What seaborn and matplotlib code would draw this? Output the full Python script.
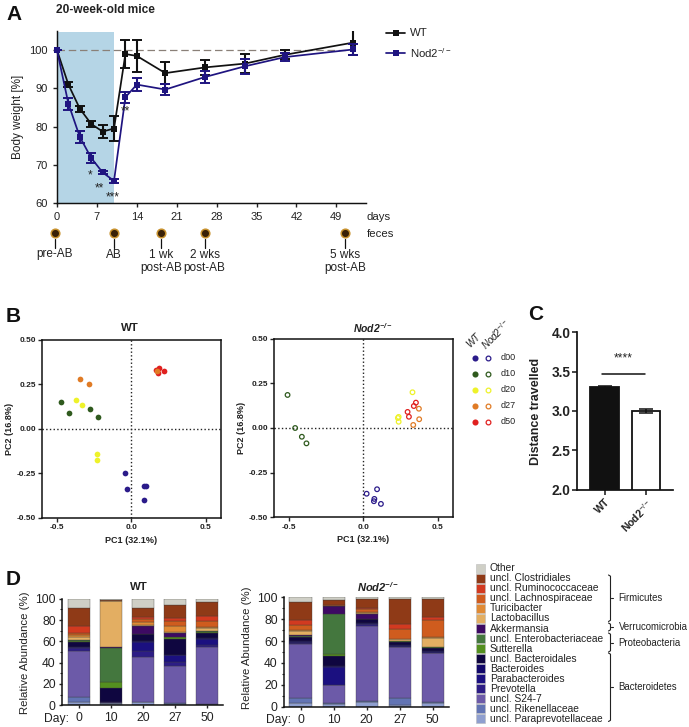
import numpy as np
import pandas as pd
import matplotlib
matplotlib.use("Agg")
import matplotlib.pyplot as plt
from matplotlib.patches import Rectangle
import seaborn as sns

sns.set_theme(style="ticks")
plt.rcParams["font.family"] = ["Liberation Sans", "DejaVu Sans"]
plt.rcParams["mathtext.fontset"] = "custom"
plt.rcParams["mathtext.rm"] = "Liberation Sans"
plt.rcParams["mathtext.it"] = "Liberation Sans:italic"
plt.rcParams["mathtext.bf"] = "Liberation Sans:bold"
plt.rcParams["mathtext.bfit"] = "Liberation Sans:italic:bold"

# ---------- Panel A data
days = [0, 2, 4, 6, 8, 10, 12, 14, 19, 26, 33, 40, 52]
wt_weight = [100, 91, 84.7, 80.7, 78.7, 79.5, 99, 98.5, 94, 95.5, 96.5, 98.8, 102]
wt_err = [0, .6, .8, .8, 1.7, 3.2, 3.7, 4.3, 2.8, 1.9, 2.5, 1.2, 3.2]
nod_weight = [100, 86, 77.3, 71.8, 68, 65.8, 87.7, 91, 89.7, 93, 95.8, 98.2, 100.2]
nod_err = [0, 1.6, 1.6, 1.4, .5, .5, 1.4, 1.7, 1.5, 1.6, 1.9, 1.1, 1.5]
feces_days = [-0.35, 10, 18.3, 25.9, 50.6]
feces_labels = ["pre-AB", "AB", "1 wk\npost-AB", "2 wks\npost-AB", "5 wks\npost-AB"]

# ---------- Panel B data
pca_groups = ["d00", "d10", "d20", "d27", "d50"]
pca_colors = ["#2b1b8a", "#2f5a1e", "#eef22a", "#e07b25", "#e0201f"]
wt_pc = {
    "d00": ([-.04, -.03, .087, .099, .085], [-.25, -.336, -.319, -.319, -.397]),
    "d10": ([-.473, -.417, -.28, -.226], [.149, .091, .108, .067]),
    "d20": ([-.372, -.332, -.233, -.233], [.16, .132, -.142, -.177]),
    "d50": ([.166, .188, .217, .182], [.33, .338, .326, .315]),
    "d27": ([-.343, -.283, .173], [.276, .248, .321]),
}
nod_pc = {
    "d00": ([.022, .092, .074, .071, .118], [-.368, -.343, -.397, -.41, -.425]),
    "d10": ([-.509, -.458, -.413, -.382], [.185, 0, -.049, -.086]),
    "d20": ([.33, .237, .232, .237], [.2, .062, .056, .035]),
    "d27": ([.373, .375, .335], [.108, .049, .017]),
    "d50": ([.353, .339, .297, .306], [.142, .123, .09, .063]),
}

# ---------- Panel C data
dist_groups = ["WT", "Nod2$^{-/-}$"]
dist_values = [3.31, 3.0]
dist_err = [0.012, 0.025]

# ---------- Panel D data (cumulative top of each taxon, bottom to top)
taxa = ["uncl. Paraprevotellaceae", "uncl. Rikenellaceae", "uncl. S24-7", "Prevotella",
        "Parabacteroides", "Bacteroides", "uncl. Bacteroidales", "Sutterella",
        "uncl. Enterobacteriaceae", "Akkermansia", "Lactobacillus", "Turicibacter",
        "uncl. Lachnospiraceae", "uncl. Ruminococcaceae", "uncl. Clostridiales", "Other"]
taxa_colors = ["#8f9fcf", "#6274b4", "#6c5aa8", "#2d1d85", "#1b1080", "#12086a", "#0f0640",
               "#54901f", "#44773e", "#3d0a63", "#e3ae62", "#e08a35", "#cf5c1e", "#d23a20",
               "#8f3a17", "#cfcfc6"]
day_labels = ["0", "10", "20", "27", "50"]
wt_d0 = [3, 7.5, 50.5, 54, 54.5, 55, 59, 60, 61, 61.5, 64, 66, 68, 74, 91, 100]
wt_d10 = [2, 2.2, 2.5, 2.7, 3, 3.5, 16, 21.5, 53.5, 55, 98, 98.2, 98.4, 98.6, 99, 100]
wt_d20 = [3, 3.3, 45, 50.5, 59.5, 60.5, 66.5, 66.7, 67, 74, 75.5, 78, 81, 82.5, 91.5, 100]
wt_d27 = [1.5, 2, 37, 41, 47, 47.5, 62.5, 64, 64.5, 67.5, 69, 74.5, 79, 81.5, 94, 100]
wt_d50 = [.5, 1, 55, 57, 62, 63, 67.5, 69, 69.5, 70, 72.5, 73.5, 79.5, 83.5, 96.5, 100]
nod_d0 = [3.5, 7.5, 57.5, 58, 59, 60, 63.5, 64, 65, 65.5, 69.5, 70.5, 74.5, 79, 96, 100]
nod_d10 = [2.5, 3, 19.5, 20, 36, 37, 46, 48.5, 85, 92, 92.2, 92.4, 92.6, 93, 97.5, 100]
nod_d20 = [4, 5, 74, 75.5, 76, 76.5, 80, 80.2, 80.4, 84.5, 85.5, 86.5, 89, 90.5, 98, 100]
nod_d27 = [1.5, 7.5, 54.5, 55, 55.5, 56, 59.5, 59.7, 60, 60.2, 61.5, 62, 71, 76, 98.5, 100]
nod_d50 = [3.5, 4, 49, 49.5, 50, 50.5, 54, 54.2, 54.4, 55, 63, 63.5, 79, 82, 98, 100]

W, H = 689, 727
fig = plt.figure(figsize=(W / 100, H / 100), dpi=100, facecolor="white")


def px_axes(l, t, r, b):
    return fig.add_axes([l / W, 1 - b / H, (r - l) / W, (b - t) / H], facecolor="none")


# overlay in pixel coordinates for annotation text
ov = fig.add_axes([0, 0, 1, 1], facecolor="none", zorder=10)
ov.set_xlim(0, W)
ov.set_ylim(H, 0)
ov.axis("off")

BLACK = "#111111"
NAVY = "#1f1480"
INK = "#222222"

# ---------- Panel A
axA = px_axes(57, 31.1, 366, 203)
axA.set_xlim(0, 54.2)
axA.set_ylim(60, 105)
axA.fill_between([0, 10], 60, 104.7, color="#b5d5e6", lw=0, zorder=0)
axA.plot([0, 52], [100, 100], color="#8a8078", lw=0.9, dashes=(6, 3), zorder=1)
dfA = pd.DataFrame({"day": days * 2, "weight": wt_weight + nod_weight,
                    "group": ["WT"] * 13 + ["Nod2"] * 13})
sns.lineplot(data=dfA, x="day", y="weight", hue="group", palette={"WT": BLACK, "Nod2": NAVY},
             marker="s", markersize=5, markeredgewidth=0, lw=1.25, ax=axA, legend=False,
             zorder=4, clip_on=False)
axA.errorbar(days, wt_weight, yerr=wt_err, fmt="none", ecolor=BLACK, elinewidth=1.5,
             capsize=3.4, capthick=1.4, zorder=3)
axA.errorbar(days, nod_weight, yerr=nod_err, fmt="none", ecolor=NAVY, elinewidth=1.5,
             capsize=3.4, capthick=1.4, zorder=5)
axA.set_xticks(range(0, 50, 7))
axA.set_yticks(range(60, 101, 10))
axA.tick_params(labelsize=8, width=1, length=3, pad=3.5, color=INK, labelcolor=INK)
axA.set_xlabel("")
axA.set_ylabel("Body weight [%]", fontsize=8.5, color=INK, labelpad=4)
sns.despine(ax=axA)
for s in ("left", "bottom"):
    axA.spines[s].set_linewidth(1.05)
    axA.spines[s].set_color(BLACK)
# feces markers
axA.plot(feces_days, [52.2] * 5, "o", ms=6.2, mfc="#3a2208", mec="#c8922f", mew=1.1, clip_on=False)
for d, lab in zip(feces_days, feces_labels):
    axA.plot([d, d], [50.6, 48.2], color=BLACK, lw=0.9, clip_on=False)
    ov.text(57 + d * 5.7, 248.5, lab, ha="center", va="top", fontsize=8.5, color=INK,
            linespacing=1.2)
ov.text(366.5, 216.5, "days", fontsize=8.2, va="center", color=INK)
ov.text(366.5, 234, "feces", fontsize=8.2, va="center", color=INK)
ov.text(90, 175, "*", fontsize=8.5, ha="center", va="center", color=INK)
ov.text(99, 188.5, "**", fontsize=8.5, ha="center", va="center", color=INK)
ov.text(113, 197, "***", fontsize=8.5, ha="center", va="center", color=INK)
ov.text(125, 111.5, "**", fontsize=8.5, ha="center", va="center", color=INK)
ov.text(56, 10, "20-week-old mice", fontsize=8.6, fontweight="bold", va="center", color=INK)
for y, c, lab in [(32.7, BLACK, "WT"), (52.7, NAVY, "Nod2$^{-/-}$")]:
    ov.plot([386, 405], [y, y], color=c, lw=1.25)
    ov.plot([395.5], [y], "s", color=c, ms=5, mew=0)
    ov.text(410, y + 0.5, lab, fontsize=8.2, va="center", color=INK)


# ---------- Panel B
def pca_panel(box, pcs, filled):
    ax = px_axes(*box)
    ax.set_xlim(-0.6, 0.6)
    ax.set_ylim(-0.5, 0.5)
    ax.axhline(0, color=INK, lw=1, ls=":", zorder=1)
    ax.axvline(0, color=INK, lw=1, ls=":", zorder=1)
    cmap = dict(zip(pca_groups, pca_colors))
    for g, (xs, ys) in pcs.items():
        if filled:
            sns.scatterplot(x=xs, y=ys, color=cmap[g], s=17, linewidth=0, ax=ax, zorder=3)
        else:
            sns.scatterplot(x=xs, y=ys, facecolor="none", edgecolor=cmap[g], s=11,
                            linewidth=0.9, ax=ax, zorder=3)
    ax.set_xticks([-0.5, 0, 0.5], ["-0.5", "0.0", "0.5"])
    ax.set_yticks([-0.5, -0.25, 0, 0.25, 0.5], ["-0.50", "-0.25", "0.00", "0.25", "0.50"])
    ax.tick_params(labelsize=6, width=1, length=3, pad=1.5, labelcolor=INK)
    for lab in ax.get_xticklabels() + ax.get_yticklabels():
        lab.set_fontweight("bold")
    ax.set_xlabel("PC1 (32.1%)", fontsize=6.5, fontweight="bold", labelpad=3.5, color=INK)
    ax.set_ylabel("PC2 (16.8%)", fontsize=6.5, fontweight="bold", labelpad=1.5, color=INK)
    for s in ax.spines.values():
        s.set_linewidth(1.1)
        s.set_color(BLACK)
    return ax


pca_panel((42, 339.5, 220.7, 518), wt_pc, True)
pca_panel((274, 338.7, 452.7, 517.3), nod_pc, False)
ov.text(130, 328, "WT", fontsize=8.2, fontweight="bold", ha="center", va="center", color=INK)
ov.text(372.5, 328, r"$\mathbfit{Nod2}^{\mathbfit{-/-}}$", fontsize=7.5, ha="center", va="center",
        color=INK)
ov.text(472, 349, "WT", fontsize=7, rotation=45, ha="left", va="bottom", rotation_mode="anchor",
        color=INK, style="italic")
ov.text(488, 352, "Nod2$^{-/-}$", fontsize=7, rotation=45, ha="left", va="bottom",
        rotation_mode="anchor", color=INK, style="italic")
for i, (g, c) in enumerate(zip(pca_groups, pca_colors)):
    y = 358 + i * 15.95
    ov.plot([474.7], [y], "o", color=c, ms=4.4, mew=0)
    ov.plot([488], [y], "o", mfc="none", mec=c, ms=3.4, mew=0.9)
    ov.text(501, y, g, fontsize=6.5, va="center", color=INK)

# ---------- Panel C
axC = px_axes(576.7, 332.3, 673, 489.7)
dfC = pd.DataFrame({"group": dist_groups, "value": dist_values})
sns.barplot(data=dfC, x="group", y="value", hue="group", palette=[BLACK, "white"], legend=False,
            width=0.68, edgecolor=BLACK, linewidth=1.3, saturation=1, ax=axC)
axC.errorbar(range(2), dist_values, yerr=dist_err, fmt="none", ecolor=BLACK, elinewidth=1.1,
             capsize=5, capthick=1.1)
axC.set_xlim(-0.67, 1.64)
axC.set_ylim(2, 4)
axC.set_yticks([2, 2.5, 3, 3.5, 4], ["2.0", "2.5", "3.0", "3.5", "4.0"])
axC.set_xticks([0, 1], dist_groups)
axC.tick_params(axis="y", labelsize=9.8, width=1.2, length=3.6, pad=1, labelcolor=INK)
axC.tick_params(axis="x", labelsize=7.6, width=1.2, length=3.5, pad=2, labelcolor=INK)
for lab in axC.get_yticklabels():
    lab.set_fontweight("bold")
for lab in axC.get_xticklabels():
    lab.set_rotation(45)
    lab.set_ha("right")
    lab.set_rotation_mode("anchor")
    lab.set_fontweight("bold")
axC.set_xlabel("")
axC.set_ylabel("Distance travelled", fontsize=9, fontweight="bold", color=INK)
axC.yaxis.set_label_coords((541.7 - 576.7) / 96.3, 0.5)
axC.plot([-0.06, 0.97], [3.47, 3.47], color=BLACK, lw=1.1)
ov.text(623.7, 358, "****", fontsize=8.6, ha="center", va="center", color=INK)
sns.despine(ax=axC)
for s in ("left", "bottom"):
    axC.spines[s].set_linewidth(1.25)
    axC.spines[s].set_color(BLACK)


# ---------- Panel D
def stack_panel(box, rows, xlim, width, label_xy):
    ax = px_axes(*box)
    tops = np.array(rows)
    bottoms = np.hstack([np.zeros((tops.shape[0], 1)), tops[:, :-1]])
    x = np.arange(tops.shape[0])
    for j, c in enumerate(taxa_colors):
        sns.barplot(x=x, y=tops[:, j] - bottoms[:, j], bottom=bottoms[:, j], color=c,
                    width=width, edgecolor="#3a3a3a", linewidth=0.25, ax=ax,
                    native_scale=True, saturation=1)
    ax.set_xlim(*xlim)
    ax.set_ylim(0, 100)
    ax.set_xticks(x, day_labels)
    ax.set_yticks(range(0, 101, 20))
    ax.set_yticks(range(10, 100, 20), minor=True)
    ax.tick_params(axis="both", which="major", labelsize=8.7, width=1, length=2.5, pad=2,
                   labelcolor=INK)
    ax.tick_params(axis="y", which="minor", width=0.8, length=1.5)
    ax.tick_params(axis="x", pad=2.5)
    ax.set_xlabel("")
    ax.set_ylabel("Relative Abundance (%)", fontsize=8.2, color=INK)
    ax.yaxis.set_label_coords(*label_xy)
    sns.despine(ax=ax)
    for s in ("left", "bottom"):
        ax.spines[s].set_linewidth(1.1)
        ax.spines[s].set_color(BLACK)
    return ax


stack_panel((62, 598.7, 223, 705.3), [wt_d0, wt_d10, wt_d20, wt_d27, wt_d50], (-0.53, 4.5), 0.67,
            (-0.199, 0.49))
stack_panel((284, 597.3, 449.3, 706.7), [nod_d0, nod_d10, nod_d20, nod_d27, nod_d50], (-0.5, 4.5),
            0.67, (-0.195, 0.537))
ov.text(139, 587, "WT", fontsize=8.2, fontweight="bold", ha="center", va="center", color=INK)
ov.text(378, 587, r"$\mathbfit{Nod2}^{\mathbfit{-/-}}$", fontsize=8, ha="center", va="center",
        color=INK)
ov.text(44, 719, "Day:", fontsize=8.7, va="center", color=INK)
ov.text(265.7, 719.5, "Day:", fontsize=8.7, va="center", color=INK)

# legend of taxa
for i, (t, c) in enumerate(zip(taxa[::-1], taxa_colors[::-1])):
    y = 568 + i * 10.05
    ov.add_patch(Rectangle((475.7, y - 4.5), 9.3, 9.2, fc=c, ec="#bbbbbb", lw=0.4))
    ov.text(490, y + 0.2, t, fontsize=7.35, va="center", color=INK)
groups_phyla = [("Firmicutes", 575, 621.5), ("Verrucomicrobia", 623, 631),
                ("Proteobacteria", 633, 652), ("Bacteroidetes", 653, 721.5)]
for name, y0, y1 in groups_phyla:
    xb = 610.5
    ov.plot([xb - 2, xb, xb, xb - 2], [y0, y0 + 1.2, y1 - 1.2, y1], color=INK, lw=0.8)
    ym = (y0 + y1) / 2
    ov.plot([xb, xb + 2.5], [ym, ym], color=INK, lw=0.8)
    ov.text(618.7, ym, name, fontsize=6.9, va="center", color=INK)

# panel letters
for lab, x, y in [("A", 6, 14), ("B", 6, 316), ("C", 528, 315), ("D", 6, 579.5)]:
    ov.text(x, y, lab, fontsize=15, fontweight="bold", va="center", color=BLACK)

fig.savefig("out.png", dpi=100, facecolor="white")
